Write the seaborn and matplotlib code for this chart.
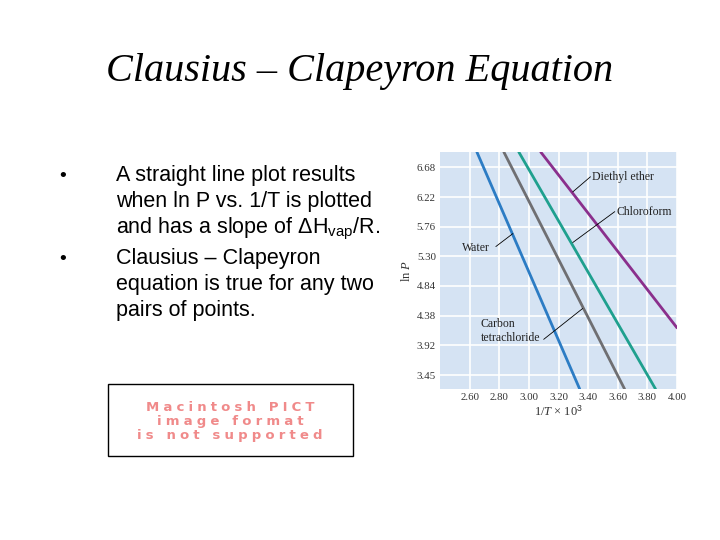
import matplotlib
matplotlib.use("Agg")
import matplotlib.pyplot as plt
import seaborn as sns
import pandas as pd
from matplotlib.patches import Rectangle

sns.set_theme(style="white")
plt.rcParams['font.family'] = ['DejaVu Sans']
plt.rcParams['mathtext.fontset'] = 'custom'
plt.rcParams['mathtext.rm'] = 'Liberation Sans'
plt.rcParams['mathtext.it'] = 'Liberation Serif:italic'
plt.rcParams['text.color'] = 'black'

# ---- data ----
substances = ["Water", "Carbon tetrachloride", "Chloroform", "Diethyl ether"]
x_start = [2.649, 2.831, 2.932, 3.080]
y_start = [6.92, 6.92, 6.92, 6.92]
x_end = [3.343, 3.646, 3.855, 4.00]
y_end = [3.24, 3.24, 3.24, 4.19]
line_colors = ["#2c7cc4", "#6f6f72", "#1fa08e", "#8a2f8c"]
x_ticks = [2.60, 2.80, 3.00, 3.20, 3.40, 3.60, 3.80, 4.00]
y_ticks = [3.45, 3.92, 4.38, 4.84, 5.30, 5.76, 6.22, 6.68]

title = "Clausius – Clapeyron Equation"
bullets = [
    ["A straight line plot results", "when ln P vs. 1/T is plotted",
     r"and has a slope of ΔH$_{\mathrm{vap}}$/R."],
    ["Clausius – Clapeyron", "equation is true for any two", "pairs of points."],
]
pict_lines = ["Macintosh PICT", "image format", "is not supported"]

rows = []
for s, xa, ya, xb, yb in zip(substances, x_start, y_start, x_end, y_end):
    rows.append({"sub": s, "x": xa, "y": ya})
    rows.append({"sub": s, "x": xb, "y": yb})
df = pd.DataFrame(rows)

fig = plt.figure(figsize=(7.2, 5.4), dpi=100)
fig.patch.set_facecolor("white")

# title
fig.text(0.5, 1 - 72 / 540, title, ha="center", va="center",
         fontsize=29, family="Liberation Serif", style="italic", color="black")

# bullets
line_base = [[181, 207, 233], [264, 290, 316]]
for blk, ys in zip(bullets, line_base):
    fig.text(63 / 720, 1 - ys[0] / 540, "•", ha="center", va="baseline",
             fontsize=14, family="Liberation Sans", color="black")
    for t, yy in zip(blk, ys):
        fig.text(116 / 720, 1 - yy / 540, t, ha="left", va="baseline",
                 fontsize=15.5, family="Liberation Sans", color="black")

# PICT placeholder box
fig.add_artist(Rectangle((108 / 720, 1 - 456 / 540), 245 / 720, 72 / 540,
                         transform=fig.transFigure, fill=False,
                         edgecolor="black", linewidth=1))
hair = "\u200a"
for t, yy in zip(pict_lines, [411, 425, 439]):
    spaced = (hair * 3).join(list(t))
    fig.text(230 / 720, 1 - yy / 540, spaced, ha="center", va="baseline",
             fontsize=9.5, family="DejaVu Sans", weight="bold",
             color="#f08a8a")

# chart
ax = fig.add_axes([440 / 720, 1 - 389 / 540, 237 / 720, 237 / 540])
ax.set_facecolor("#d5e3f3")
sns.lineplot(data=df, x="x", y="y", hue="sub", palette=line_colors,
             hue_order=substances, ax=ax, legend=False, linewidth=2.0,
             estimator=None, sort=False)
ax.set_xlim(2.40, 4.00)
ax.set_ylim(3.24, 6.92)
ax.set_xticks(x_ticks)
ax.set_xticklabels([f"{v:.2f}" for v in x_ticks])
ax.set_yticks(y_ticks)
ax.set_yticklabels([f"{v:.2f}" for v in y_ticks])
ax.grid(True, color="white", linewidth=1.2)
ax.set_axisbelow(True)
for sp in ax.spines.values():
    sp.set_visible(False)
ax.tick_params(length=0, labelsize=7.8, labelcolor="#333333", pad=3)
for lab in ax.get_xticklabels() + ax.get_yticklabels():
    lab.set_family("Liberation Serif")
ax.set_xlabel(r"1/$T$ × 10$^{3}$", fontsize=9, family="Liberation Serif",
              color="#333333", labelpad=2)
ax.set_ylabel(r"ln $P$", fontsize=9, family="Liberation Serif",
              color="#333333", labelpad=3)

# annotations with leader lines (line start, line end)
leaders = [
    ((3.296, 6.30), (3.416, 6.536)),
    ((3.296, 5.514), (3.580, 5.994)),
    ((2.892, 5.653), (2.777, 5.452)),
    ((3.363, 4.49), (3.100, 4.011)),
]
for a, b in leaders:
    ax.plot([a[0], b[0]], [a[1], b[1]], color="black", lw=0.6)

lab_kw = dict(fontsize=8.5, family="Liberation Serif", color="#222222")
ax.text(3.424, 6.536, "Diethyl ether", ha="left", va="center", **lab_kw)
ax.text(3.592, 5.994, "Chloroform", ha="left", va="center", **lab_kw)
ax.text(2.737, 5.436, "Water", ha="right", va="center", **lab_kw)
ax.text(2.676, 4.244, "Carbon", ha="left", va="center", **lab_kw)
ax.text(2.676, 4.030, "tetrachloride", ha="left", va="center", **lab_kw)

fig.savefig("out.png", dpi=100, facecolor="white")
